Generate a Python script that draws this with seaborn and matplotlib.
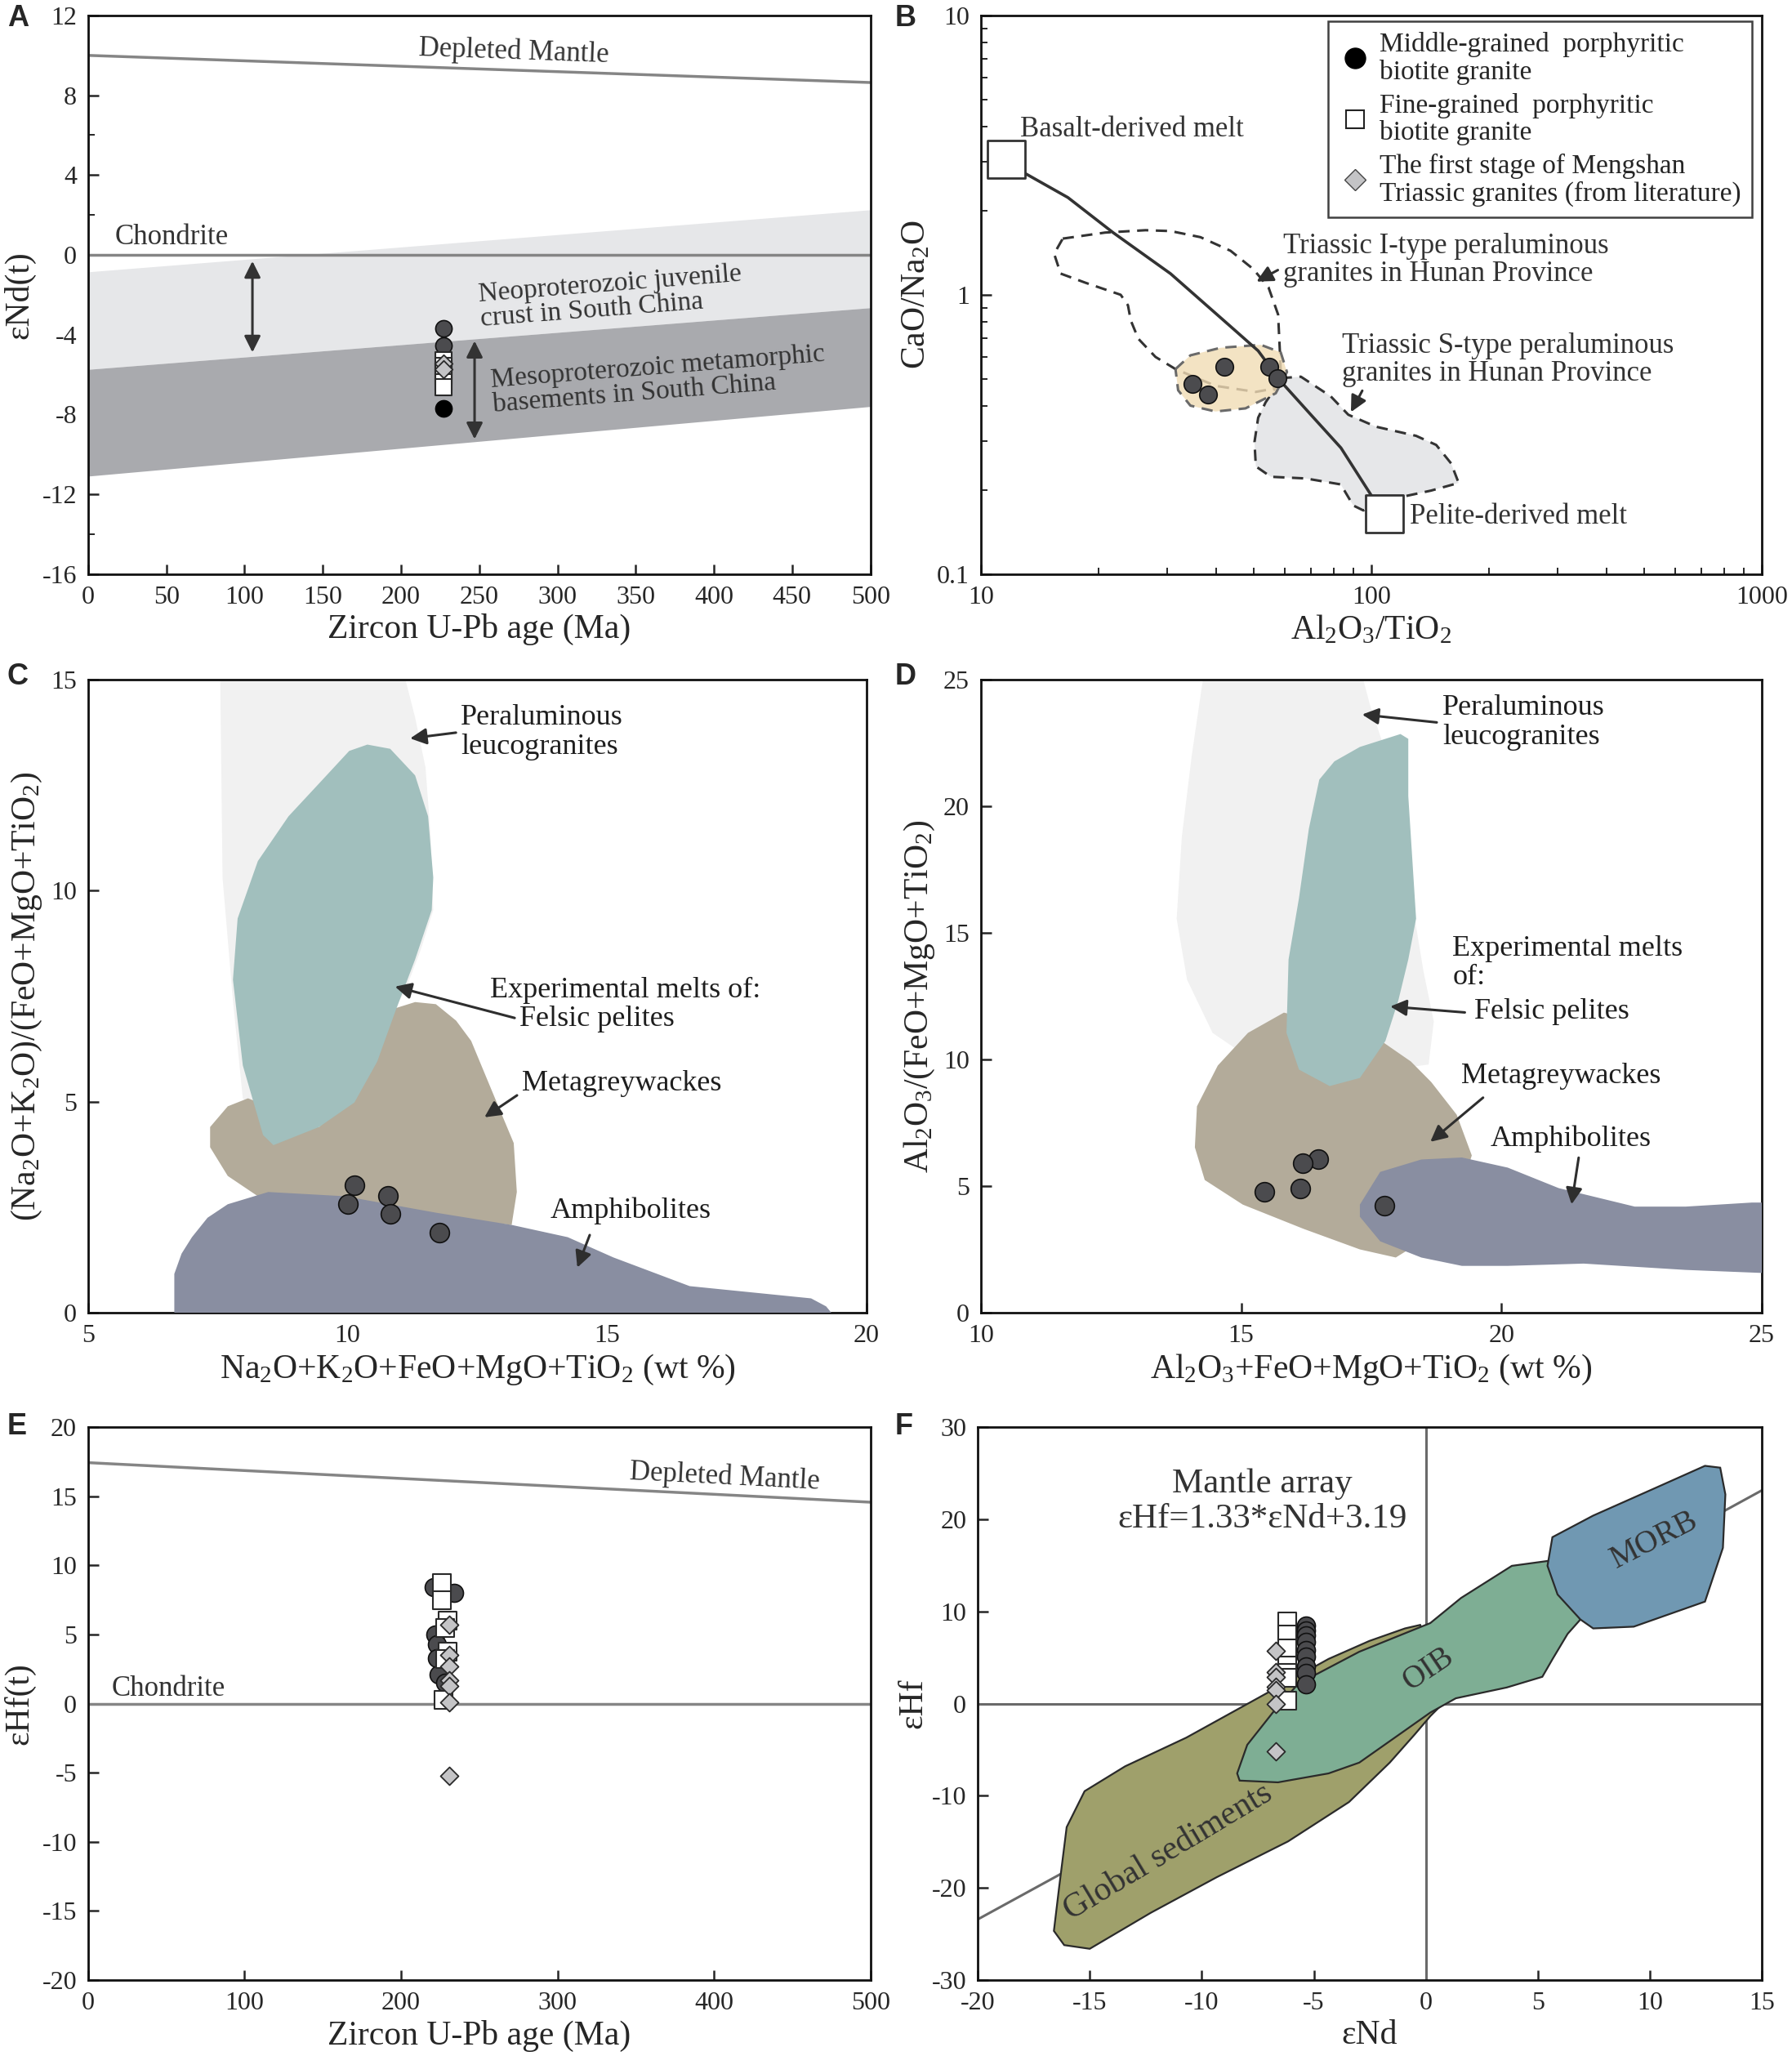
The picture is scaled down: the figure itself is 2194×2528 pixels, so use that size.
import numpy as np
import pandas as pd
import matplotlib
matplotlib.use("Agg")
import matplotlib.pyplot as plt
from matplotlib.lines import Line2D
from matplotlib.ticker import NullFormatter
import seaborn as sns

# ---- data ---------------------------------------------------------------
# A: eNd(t) vs age
a_ages = [0, 500]
a_depleted = [10.0, 8.64]
a_neo_top = [-0.85, 2.26]
a_meso_top = [-5.74, -2.65]
a_meso_bot = [-11.09, -7.6]
a_mid_age = [227, 227]
a_mid_val = [-3.68, -4.55]
a_black_age = [227]
a_black_val = [-7.7]
a_fine_age = [227, 227, 227, 227, 227, 227]
a_fine_val = [-5.3, -5.55, -5.8, -6.1, -6.4, -6.65]
a_lit_age = [227, 227]
a_lit_val = [-5.45, -5.75]

# B: CaO/Na2O vs Al2O3/TiO2
b_curve_x = [11.6, 12.8, 16.7, 21.8, 30.6, 43.6, 51.3, 58.6, 70.0, 83.6, 102.8, 108]
b_curve_y = [3.06, 2.75, 2.23, 1.67, 1.19, 0.77, 0.63, 0.49, 0.372, 0.283, 0.180, 0.164]
b_end_x = [11.6, 108]
b_end_y = [3.06, 0.164]
b_mid_x = [42.0, 34.9, 38.2, 54.9, 57.4]
b_mid_y = [0.553, 0.481, 0.438, 0.553, 0.503]
b_itype_x = [16.2, 20.8, 26.4, 30.6, 36.5, 43.6, 49.8, 54.5, 57.7, 58.3, 58.6, 56.1, 50.6, 39.9,
             31.5, 28.0, 25.3, 24.2, 23.8, 22.8, 18.5, 16.0, 15.4, 16.2]
b_itype_y = [1.589, 1.670, 1.703, 1.691, 1.608, 1.437, 1.237, 1.065, 0.850, 0.630, 0.529, 0.461,
             0.449, 0.472, 0.542, 0.599, 0.696, 0.809, 0.917, 1.0, 1.105, 1.191, 1.402, 1.589]
b_stype_x = [58.6, 66.0, 78.7, 87.3, 102.8, 130.2, 146.6, 160.1, 167.4, 142.2, 115.7, 102.8, 95.4,
             89.9, 83.5, 67.9, 55.3, 50.6, 50.2, 51.3, 53.6, 56.9]
b_stype_y = [0.503, 0.509, 0.433, 0.372, 0.337, 0.3126, 0.290, 0.249, 0.212, 0.199, 0.187, 0.180,
             0.169, 0.176, 0.2094, 0.220, 0.223, 0.243, 0.297, 0.363, 0.412, 0.466]
b_tan_x = [31.5, 34.4, 41.1, 52.1, 58.6, 60.8, 56.9, 47.6, 39.9, 34.4, 32.0]
b_tan_y = [0.542, 0.607, 0.646, 0.662, 0.622, 0.529, 0.444, 0.392, 0.382, 0.401, 0.455]

# C: (Na2O+K2O)/(FeO+MgO+TiO2) vs Na2O+K2O+FeO+MgO+TiO2
c_leuco_x = [7.54, 7.59, 7.79, 7.98, 8.5, 10.5, 10.9, 11.1, 11.4, 11.65, 11.6, 11.5, 11.3, 11.01]
c_leuco_y = [15.5, 10.3, 7.4, 5.08, 4.5, 5.5, 7.2, 7.6, 8.57, 9.54, 11.28, 12.92, 14.1, 15.5]
c_pel_x = [10.38, 10.82, 11.3, 11.55, 11.65, 11.62, 11.3, 10.91, 10.57, 10.13, 9.45, 8.57, 8.37,
           7.98, 7.79, 7.88, 8.27, 8.86, 9.45, 10.03]
c_pel_y = [13.46, 13.36, 12.73, 11.76, 10.31, 9.54, 8.37, 7.11, 5.95, 4.98, 4.4, 3.97, 4.21,
           5.86, 7.89, 9.34, 10.7, 11.76, 12.54, 13.31]
c_grey_x = [8.08, 7.69, 7.35, 7.35, 7.69, 8.27, 13.16, 13.26, 13.2, 12.87, 12.38, 12.09, 11.7,
            11.3, 10.91, 10.33, 9.45]
c_grey_y = [5.08, 4.89, 4.4, 3.92, 3.24, 2.76, 2.08, 2.86, 4.02, 4.99, 6.44, 6.92, 7.31, 7.36,
            7.21, 5.47, 4.4]
c_amph_x = [6.66, 6.66, 6.8, 7.0, 7.3, 7.69, 8.47, 9.94, 11.7, 13.16, 14.24, 15.12, 16.59, 18.93,
            19.22, 19.32]
c_amph_y = [0, 0.92, 1.4, 1.79, 2.25, 2.57, 2.86, 2.76, 2.37, 2.08, 1.79, 1.31, 0.63, 0.34, 0.15, 0]
c_mid_x = [10.13, 10.0, 10.77, 10.82, 11.77]
c_mid_y = [3.02, 2.57, 2.76, 2.35, 1.89]

# D: Al2O3/(FeO+MgO+TiO2) vs Al2O3+FeO+MgO+TiO2
d_leuco_x = [14.3, 14.05, 13.86, 13.76, 13.96, 14.45, 15.2, 17.5, 18.6, 18.7, 18.5, 18.3, 18.0,
             17.7, 17.48, 17.28]
d_leuco_y = [25.5, 22.0, 18.8, 15.56, 13.15, 11.05, 10.0, 9.5, 9.8, 11.5, 13.5, 16.0, 20.0,
             22.6, 23.95, 25.5]
d_pel_x = [16.79, 17.28, 18.06, 18.21, 18.21, 18.36, 18.21, 18.02, 17.77, 17.28, 16.7, 16.11,
           15.87, 15.91, 16.11, 16.3, 16.5]
d_pel_y = [21.77, 22.34, 22.85, 22.66, 20.4, 15.56, 13.95, 12.34, 10.73, 9.27, 8.95, 9.6, 11.05,
           13.95, 16.37, 19.11, 21.05]
d_grey_x = [15.82, 15.13, 14.55, 14.15, 14.11, 14.3, 15.03, 16.2, 17.28, 17.97, 19.0, 19.43,
            19.14, 18.65, 18.26, 17.5]
d_grey_y = [11.85, 11.05, 9.76, 8.15, 6.53, 5.24, 4.27, 3.31, 2.5, 2.18, 3.5, 6.21, 7.82, 9.11,
            9.92, 11.0]
d_amph_x = [17.28, 17.67, 18.46, 19.24, 20.12, 21.1, 22.56, 23.54, 24.81, 25.5, 25.5, 23.54,
            21.58, 20.12, 19.24, 18.46, 17.67, 17.28]
d_amph_y = [4.27, 5.56, 6.05, 6.13, 5.73, 4.92, 4.19, 4.19, 4.35, 4.35, 1.53, 1.69, 1.94, 1.85,
            1.85, 2.18, 2.82, 3.79]
d_mid_x = [16.48, 16.18, 15.44, 16.14, 17.75]
d_mid_y = [6.05, 5.92, 4.79, 4.89, 4.23]

# E: eHf(t) vs age
e_depleted = [17.43, 14.57]
e_mid_age = [221, 234, 222, 223, 223, 224, 228]
e_mid_val = [8.4, 8.0, 5.0, 4.3, 3.3, 2.1, 1.5]
e_fine_age = [226, 226, 230, 228, 230, 228, 227]
e_fine_val = [8.7, 7.5, 6.0, 5.45, 3.75, 3.24, 0.28]
e_lit_age = [231, 231, 231, 231, 231, 231, 231]
e_lit_val = [5.7, 3.5, 2.7, 1.7, 1.3, 0.1, -5.2]

# F: eHf vs eNd
f_array_x = [-20, 15]
f_sed_x = [-16.03, -15.23, -13.42, -10.69, -7.51, -4.34, -2.52, -0.93, -0.25, 0.4, 1.0, 0.2,
           -0.48, -1.61, -3.43, -6.15, -9.33, -12.28, -15.0, -16.14, -16.6, -16.37]
f_sed_y = [-13.4, -9.5, -6.8, -3.69, 0.58, 4.85, 6.8, 8.16, 8.54, 5.0, 0.58, -1.36, -3.3, -6.4,
           -10.68, -14.95, -18.83, -22.7, -26.6, -26.2, -24.66, -20.0]
f_oib_x = [-8.42, -8.31, -6.6, -4.34, -2.97, -0.93, 0.2, 1.34, 3.61, 5.2, 5.66, 6.33, 6.9, 6.2,
           5.5, 3.84, 1.57, 0.2, -2.97, -5.7, -6.83, -7.97]
f_oib_y = [-7.57, -8.35, -8.54, -7.57, -6.4, -2.91, -0.97, 0.58, 1.75, 2.91, 4.85, 7.57, 9.13,
           12.0, 15.5, 14.95, 11.46, 8.74, 5.63, 2.14, -0.97, -4.47]
f_morb_x = [5.65, 7.47, 9.97, 12.46, 13.14, 13.37, 13.26, 12.46, 9.28, 7.47, 6.9, 5.88, 5.43]
f_morb_y = [18.06, 20.4, 23.1, 25.8, 25.6, 22.7, 16.9, 11.07, 8.35, 8.16, 9.13, 11.84, 14.95]
f_mid_nd = [-5.35] * 9
f_mid_hf = [8.5, 7.9, 7.4, 6.7, 5.8, 5.1, 4.0, 3.3, 2.1]
f_fine_nd = [-6.2] * 7
f_fine_hf = [8.9, 7.5, 6.0, 4.1, 3.3, 2.8, 0.3]
f_lit_nd = [-6.7] * 7
f_lit_hf = [5.7, 3.4, 2.9, 1.8, 1.5, 0.0, -5.2]

# ---- style --------------------------------------------------------------
sns.set_style("ticks")
SERIF = ['Liberation Serif', 'DejaVu Serif']
plt.rcParams['font.family'] = SERIF
plt.rcParams['mathtext.fontset'] = 'custom'
plt.rcParams['mathtext.rm'] = 'Liberation Serif'
plt.rcParams['mathtext.it'] = 'Liberation Serif:italic'
plt.rcParams['axes.unicode_minus'] = False

TICK = 23
LAB = 30
ANN = 25
TXT = '#333333'
GREYLINE = '#858585'

MID = dict(marker='o', color='#4b4b4e', edgecolor='#111111', linewidth=1.2)
FINE = dict(marker='s', color='white', edgecolor='#2a2a2a', linewidth=1.5)
LIT = dict(marker='D', color='#c4c4c6', edgecolor='#2a2a2a', linewidth=1.3)

fig = plt.figure(figsize=(21.94, 25.28), dpi=100)
axA = fig.add_axes([0.0492, 0.722, 0.4365, 0.2705])
axB = fig.add_axes([0.5474, 0.722, 0.4357, 0.2705])
axC = fig.add_axes([0.0492, 0.3643, 0.4344, 0.3066])
axD = fig.add_axes([0.5474, 0.3643, 0.4357, 0.3066])
axE = fig.add_axes([0.0492, 0.0411, 0.4365, 0.2678])
axF = fig.add_axes([0.5456, 0.0411, 0.4376, 0.2678])


def style(ax, xlabel, ylabel, ypad=6):
    for s in ax.spines.values():
        s.set_linewidth(2)
        s.set_color('#111111')
    ax.tick_params(which='major', direction='in', length=9, width=1.8, labelsize=TICK, pad=10,
                   labelfontfamily='Liberation Serif')
    ax.tick_params(which='minor', direction='in', length=6, width=1.4)
    ax.set_xlabel(xlabel, fontsize=LAB, labelpad=4, family=SERIF)
    ax.set_ylabel(ylabel, fontsize=LAB, labelpad=ypad, family=SERIF)


def pts(ax, x, y, st, s, z=5):
    sns.scatterplot(x=x, y=y, ax=ax, s=s, zorder=z, legend=False, **st)


def arrow(ax, tip, tail):
    ax.annotate('', xy=tip, xytext=tail, zorder=10,
                arrowprops=dict(arrowstyle='-|>', color='#2e2e2e', lw=2.2, mutation_scale=30))


# ---- A ------------------------------------------------------------------
ax = axA
ax.fill_between(a_ages, a_meso_top, a_neo_top, color='#e6e7e9', lw=0, zorder=1)
ax.fill_between(a_ages, a_meso_bot, a_meso_top, color='#a9aaae', lw=0, zorder=1)
sns.lineplot(x=a_ages, y=a_depleted, ax=ax, color=GREYLINE, lw=2.5, zorder=2)
ax.axhline(0, color=GREYLINE, lw=2.5, zorder=2)
ax.annotate('', xy=(105, -0.2), xytext=(105, -5.0), zorder=10,
            arrowprops=dict(arrowstyle='<|-|>', color='#333333', lw=2.2, mutation_scale=30))
ax.annotate('', xy=(247, -4.2), xytext=(247, -9.35), zorder=10,
            arrowprops=dict(arrowstyle='<|-|>', color='#333333', lw=2.2, mutation_scale=30))
pts(ax, a_mid_age, a_mid_val, MID, 210)
pts(ax, a_fine_age, a_fine_val, FINE, 210, 6)
pts(ax, a_lit_age, a_lit_val, LIT, 120, 7)
pts(ax, a_black_age, a_black_val, dict(marker='o', color='black', edgecolor='black'), 210)
ax.text(272, 10.2, 'Depleted Mantle', fontsize=ANN, color=TXT, ha='center', va='center',
        rotation=-2, rotation_mode='anchor')
ax.text(17, 0.87, 'Chondrite', fontsize=ANN, color=TXT, ha='left', va='center')
ax.text(250, -2.6, 'Neoproterozoic juvenile\ncrust in South China', fontsize=ANN - 1,
        color=TXT, ha='left', va='center', rotation=4.5, rotation_mode='anchor', linespacing=1.0)
ax.text(258, -6.9, 'Mesoproterozoic metamorphic\nbasements in South China', fontsize=ANN - 1,
        color=TXT, ha='left', va='center', rotation=4.5, rotation_mode='anchor', linespacing=1.0)
ax.set_xlim(0, 500)
ax.set_ylim(-16, 12)
ax.set_xticks(range(0, 501, 50))
ax.set_yticks(range(-16, 13, 4))
ax.set_yticks(range(-16, 13, 2), minor=True)
style(ax, 'Zircon U-Pb age (Ma)', 'εNd(t)')

# ---- B ------------------------------------------------------------------
ax = axB
ax.set_xscale('log')
ax.set_yscale('log')
dash = (0, (4.5, 3))
ax.fill(b_stype_x, b_stype_y, color='#e6e7e9', lw=0, zorder=1)
ax.plot(b_stype_x + b_stype_x[:1], b_stype_y + b_stype_y[:1], color='#333333', lw=2.2,
        ls=dash, zorder=2)
ax.plot(b_itype_x, b_itype_y, color='#333333', lw=2.2, ls=dash, zorder=2)
ax.fill(b_tan_x, b_tan_y, color='#f1dcb5', alpha=0.8, lw=0, zorder=3)
ax.plot(b_tan_x + b_tan_x[:1], b_tan_y + b_tan_y[:1], color='#6a6a6a', lw=2.2, ls=dash, zorder=3)
sns.lineplot(x=b_curve_x, y=b_curve_y, ax=ax, sort=False, color='#333333', lw=2.6, zorder=4)
pts(ax, b_mid_x, b_mid_y, MID, 240)
pts(ax, b_end_x, b_end_y, dict(marker='s', color='white', edgecolor='#333333', linewidth=2), 1100)
ax.text(12.6, 3.91, 'Basalt-derived melt', fontsize=ANN, color=TXT, ha='left', va='center')
ax.text(125.7, 0.161, 'Pelite-derived melt', fontsize=ANN, color=TXT, ha='left', va='center')
ax.text(59.5, 1.33, 'Triassic I-type peraluminous\ngranites in Hunan Province', fontsize=ANN,
        color=TXT, ha='left', va='center', linespacing=1.05)
ax.text(84, 0.585, 'Triassic S-type peraluminous\ngranites in Hunan Province', fontsize=ANN,
        color=TXT, ha='left', va='center', linespacing=1.05)
arrow(ax, (50.2, 1.105), (58.3, 1.237))
arrow(ax, (88.1, 0.374), (95.4, 0.461))
handles = [
    Line2D([], [], ls='', marker='o', ms=18, mfc='black', mec='black'),
    Line2D([], [], ls='', marker='s', ms=16, mfc='white', mec='#222222', mew=1.5),
    Line2D([], [], ls='', marker='D', ms=13, mfc='#c4c4c6', mec='#444444', mew=1),
]
labels = ['Middle-grained  porphyritic\nbiotite granite',
          'Fine-grained  porphyritic\nbiotite granite',
          'The first stage of Mengshan\nTriassic granites (from literature)']
leg = ax.legend(handles, labels, loc='upper right', bbox_to_anchor=(0.988, 0.99),
                borderaxespad=0, fontsize=ANN - 1, frameon=True, fancybox=False,
                handletextpad=0.3, handlelength=1.2, labelspacing=0.3, borderpad=0.4)
leg.get_frame().set_edgecolor('#111111')
leg.get_frame().set_linewidth(1.8)
for t in leg.get_texts():
    t.set_linespacing(1.1)
ax.set_xlim(10, 1000)
ax.set_ylim(0.1, 10)
ax.set_xticks([10, 100, 1000])
ax.set_xticklabels(['10', '100', '1000'])
ax.set_yticks([0.1, 1, 10])
ax.set_yticklabels(['0.1', '1', '10'])
ax.xaxis.set_minor_formatter(NullFormatter())
ax.yaxis.set_minor_formatter(NullFormatter())
style(ax, 'Al$_2$O$_3$/TiO$_2$', 'CaO/Na$_2$O', 4)

# ---- C ------------------------------------------------------------------
ax = axC
ax.fill(c_leuco_x, c_leuco_y, color='#f1f1f1', lw=0, zorder=1)
ax.fill(c_grey_x, c_grey_y, color='#b3ab9a', lw=0, zorder=2)
ax.fill(c_pel_x, c_pel_y, color='#a1bfbd', lw=0, zorder=3)
ax.fill(c_amph_x, c_amph_y, color='#898ea1', lw=0, zorder=4)
pts(ax, c_mid_x, c_mid_y, MID, 290)
ax.text(12.18, 13.75, 'Peraluminous\nleucogranites', fontsize=ANN + 1, color='#1e1e1e',
        ha='left', va='center', linespacing=1.1)
ax.text(12.75, 7.3, 'Experimental melts of:\n    Felsic pelites', fontsize=ANN + 1,
        color='#1e1e1e', ha='left', va='center', linespacing=1.1)
ax.text(13.36, 5.42, 'Metagreywackes', fontsize=ANN + 1, color='#1e1e1e', ha='left', va='center')
ax.text(13.9, 2.42, 'Amphibolites', fontsize=ANN + 1, color='#1e1e1e', ha='left', va='center')
arrow(ax, (11.16, 13.6), (12.13, 13.75))
arrow(ax, (10.87, 7.74), (13.26, 6.97))
arrow(ax, (12.6, 4.6), (13.3, 5.18))
arrow(ax, (14.41, 1.02), (14.68, 1.89))
ax.set_xlim(5, 20)
ax.set_ylim(0, 15)
ax.set_xticks([5, 10, 15, 20])
ax.set_yticks([0, 5, 10, 15])
style(ax, 'Na$_2$O+K$_2$O+FeO+MgO+TiO$_2$ (wt %)', '(Na$_2$O+K$_2$O)/(FeO+MgO+TiO$_2$)')

# ---- D ------------------------------------------------------------------
ax = axD
ax.fill(d_leuco_x, d_leuco_y, color='#f1f1f1', lw=0, zorder=1)
ax.fill(d_grey_x, d_grey_y, color='#b3ab9a', lw=0, zorder=2)
ax.fill(d_pel_x, d_pel_y, color='#a1bfbd', lw=0, zorder=3)
ax.fill(d_amph_x, d_amph_y, color='#898ea1', lw=0, zorder=4)
pts(ax, d_mid_x, d_mid_y, MID, 290)
ax.text(18.87, 23.3, 'Peraluminous\nleucogranites', fontsize=ANN + 1, color='#1e1e1e',
        ha='left', va='center', linespacing=1.1)
ax.text(19.06, 13.8, 'Experimental melts\nof:', fontsize=ANN + 1, color='#1e1e1e',
        ha='left', va='center', linespacing=1.1)
ax.text(19.48, 11.9, 'Felsic pelites', fontsize=ANN + 1, color='#1e1e1e', ha='left', va='center')
ax.text(19.22, 9.35, 'Metagreywackes', fontsize=ANN + 1, color='#1e1e1e', ha='left', va='center')
ax.text(19.78, 6.85, 'Amphibolites', fontsize=ANN + 1, color='#1e1e1e', ha='left', va='center')
arrow(ax, (17.28, 23.63), (18.8, 23.3))
arrow(ax, (17.82, 12.1), (19.34, 11.85))
arrow(ax, (18.6, 6.69), (19.68, 8.55))
arrow(ax, (21.34, 4.19), (21.49, 6.21))
ax.set_xlim(10, 25)
ax.set_ylim(0, 25)
ax.set_xticks([10, 15, 20, 25])
ax.set_yticks([0, 5, 10, 15, 20, 25])
style(ax, 'Al$_2$O$_3$+FeO+MgO+TiO$_2$ (wt %)', 'Al$_2$O$_3$/(FeO+MgO+TiO$_2$)')

# ---- E ------------------------------------------------------------------
ax = axE
sns.lineplot(x=a_ages, y=e_depleted, ax=ax, color=GREYLINE, lw=2.5, zorder=2)
ax.axhline(0, color=GREYLINE, lw=2.5, zorder=2)
pts(ax, e_mid_age, e_mid_val, MID, 250)
pts(ax, e_fine_age, e_fine_val, FINE, 245, 6)
pts(ax, e_lit_age, e_lit_val, LIT, 125, 7)
ax.text(407, 16.4, 'Depleted Mantle', fontsize=ANN, color=TXT, ha='center', va='center',
        rotation=-2.9, rotation_mode='anchor')
ax.text(15, 1.05, 'Chondrite', fontsize=ANN, color=TXT, ha='left', va='center')
ax.set_xlim(0, 500)
ax.set_ylim(-20, 20)
ax.set_xticks(range(0, 501, 100))
ax.set_yticks(range(-20, 21, 5))
style(ax, 'Zircon U-Pb age (Ma)', 'εHf(t)')

# ---- F ------------------------------------------------------------------
ax = axF
f_array_y = [1.33 * v + 3.19 for v in f_array_x]
sns.lineplot(x=f_array_x, y=f_array_y, ax=ax, color='#6a6a6a', lw=2.2, zorder=1)
ax.axhline(0, color='#6a6a6a', lw=2.2, zorder=1)
ax.axvline(0, color='#6a6a6a', lw=2.2, zorder=1)
ax.fill(f_sed_x, f_sed_y, facecolor='#9fa06b', edgecolor='#2a2a2a', lw=1.6, zorder=2)
ax.fill(f_oib_x, f_oib_y, facecolor='#7eae94', edgecolor='#2a2a2a', lw=1.6, zorder=3)
ax.fill(f_morb_x, f_morb_y, facecolor='#7098b2', edgecolor='#2a2a2a', lw=1.6, zorder=3)
pts(ax, f_fine_nd, f_fine_hf, FINE, 245, 5)
pts(ax, f_mid_nd, f_mid_hf, MID, 250, 6)
pts(ax, f_lit_nd, f_lit_hf, LIT, 125, 7)
ax.text(-7.3, 21.9, 'Mantle array\nεHf=1.33*εNd+3.19', fontsize=ANN + 6, color=TXT,
        ha='center', va='center', linespacing=1.15)
ax.text(10.2, 17.7, 'MORB', fontsize=ANN + 3, color='#333333', ha='center', va='center',
        rotation=27)
ax.text(0.1, 3.7, 'OIB', fontsize=ANN + 3, color='#333333', ha='center', va='center', rotation=34)
ax.text(-11.5, -16.1, 'Global sediments', fontsize=ANN + 5, color='#333333', ha='center',
        va='center', rotation=31)
ax.set_xlim(-20, 15)
ax.set_ylim(-30, 30)
ax.set_xticks(range(-20, 16, 5))
ax.set_yticks(range(-30, 31, 10))
style(ax, 'εNd', 'εHf', 2)

# ---- panel letters ------------------------------------------------------
for lab, x, y in [('A', 0.004, 0.998), ('B', 0.4995, 0.998), ('C', 0.004, 0.679),
                  ('D', 0.4995, 0.679), ('E', 0.004, 0.316), ('F', 0.4995, 0.316)]:
    fig.text(x, y, lab, fontsize=26, fontweight='bold', family='Liberation Sans',
             ha='left', va='top')

fig.savefig('out.png', dpi=100, facecolor='white')
